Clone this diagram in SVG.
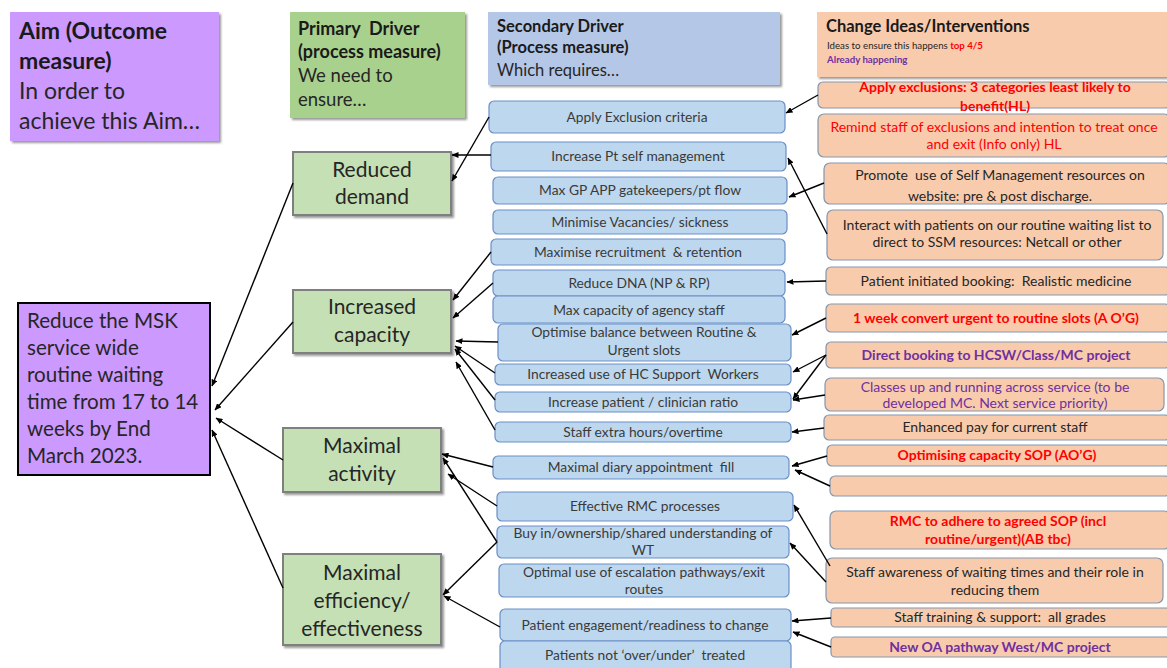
<svg xmlns="http://www.w3.org/2000/svg" width="1167" height="668" viewBox="0 0 1167 668">
<defs>
<filter id="sh" x="-5%" y="-5%" width="115%" height="120%"><feDropShadow dx="2" dy="2" stdDeviation="1.2" flood-color="#7f7f7f" flood-opacity="0.8"/></filter>
<marker id="ah" markerUnits="userSpaceOnUse" markerWidth="7" markerHeight="6" refX="6.5" refY="3" orient="auto"><path d="M0,0 L7,3 L0,6 z" fill="#000"/></marker>
<style>
text{font-family:Lato,"Open Sans","Liberation Sans",sans-serif;}
.hp{fill:#CC99FF;}
.hg{fill:#A9D18E;}
.hb{fill:#B4C7E7;}
.ho{fill:#F8CBAD;}
.pd{fill:#C5E0B4;stroke:#7F7F7F;stroke-width:2;}
.sd{fill:#BDD7EE;stroke:#6A8FC8;stroke-width:1.2;}
.ci{fill:#F8CBAD;stroke:#8497B0;stroke-width:1.2;}
.st{font-size:13.8px;fill:#3A3A3A;text-anchor:middle;}
.ct{font-size:14px;fill:#262626;text-anchor:middle;}
.red{fill:#FF0000;}
.pur{fill:#7030A0;}
.b{font-weight:bold;}
.pt{font-size:21px;fill:#262626;text-anchor:middle;}
.at{font-size:20.6px;fill:#262626;}
.cn line{stroke:#000;stroke-width:1.4;marker-end:url(#ah);}
</style>
</defs>

<g id="hdr-aim">
<rect class="hp" x="10" y="12" width="209" height="129" filter="url(#sh)"/>
<text x="19" y="39" style="font-size:23px;font-weight:bold;fill:#1a1a1a">Aim (Outcome</text>
<text x="19" y="69" style="font-size:23px;font-weight:bold;fill:#1a1a1a">measure)</text>
<text x="19" y="99" style="font-size:23px;fill:#262626">In order to</text>
<text x="19" y="129" style="font-size:23px;fill:#262626">achieve this Aim…</text>
</g>

<g id="hdr-primary">
<rect class="hg" x="290" y="12" width="175" height="106" filter="url(#sh)"/>
<text x="298" y="35" xml:space="preserve" style="font-size:18px;font-weight:bold;fill:#1a1a1a">Primary  Driver</text>
<text x="298" y="58" style="font-size:18px;font-weight:bold;fill:#1a1a1a">(process measure)</text>
<text x="298" y="82" style="font-size:18.5px;fill:#262626">We need to</text>
<text x="298" y="106" style="font-size:18.5px;fill:#262626">ensure…</text>
</g>

<g id="hdr-secondary">
<rect class="hb" x="488" y="12" width="292" height="73" filter="url(#sh)"/>
<text x="497" y="32" style="font-size:16.5px;font-weight:bold;fill:#1a1a1a">Secondary Driver</text>
<text x="497" y="53" style="font-size:16.5px;font-weight:bold;fill:#1a1a1a">(Process measure)</text>
<text x="497" y="76" style="font-size:16.5px;fill:#262626">Which requires…</text>
</g>

<g id="hdr-change">
<rect class="ho" x="817" y="12" width="352" height="65" filter="url(#sh)"/>
<text x="826" y="32" style="font-size:16.5px;font-weight:bold;fill:#1a1a1a">Change Ideas/Interventions</text>
<text x="827" y="49" style="font-size:9.7px;fill:#262626">Ideas to ensure this happens <tspan style="fill:#FF0000;font-weight:bold">top 4/5</tspan></text>
<text x="827" y="63" style="font-size:9.7px;fill:#7030A0;font-weight:bold">Already happening</text>
</g>

<g id="aim">
<rect x="18" y="303" width="192" height="172" fill="#CC99FF" stroke="#000" stroke-width="2"/>
<text class="at" x="27" y="328">Reduce the MSK</text>
<text class="at" x="27" y="355">service wide</text>
<text class="at" x="27" y="382">routine waiting</text>
<text class="at" x="27" y="409">time from 17 to 14</text>
<text class="at" x="27" y="436">weeks by End</text>
<text class="at" x="27" y="463">March 2023.</text>
</g>

<g id="p-reduced-demand">
<rect class="pd" x="293" y="152" width="158" height="63" filter="url(#sh)"/>
<text class="pt" x="372" y="177">Reduced</text>
<text class="pt" x="372" y="204">demand</text>
</g>
<g id="p-increased-capacity">
<rect class="pd" x="293" y="290" width="158" height="63" filter="url(#sh)"/>
<text class="pt" x="372" y="314">Increased</text>
<text class="pt" x="372" y="342">capacity</text>
</g>
<g id="p-maximal-activity">
<rect class="pd" x="283" y="428" width="158" height="64" filter="url(#sh)"/>
<text class="pt" x="362" y="453">Maximal</text>
<text class="pt" x="362" y="481">activity</text>
</g>
<g id="p-maximal-efficiency">
<rect class="pd" x="283" y="554" width="158" height="91" filter="url(#sh)"/>
<text class="pt" x="362" y="580">Maximal</text>
<text class="pt" x="362" y="608">efficiency/</text>
<text class="pt" x="362" y="636">effectiveness</text>
</g>

<g id="s1"><rect class="sd" x="489" y="101" width="296" height="32" rx="5"/><text class="st" x="637" y="122">Apply Exclusion criteria</text></g>
<g id="s2"><rect class="sd" x="491" y="142" width="295" height="29" rx="5"/><text class="st" x="638" y="161">Increase Pt self management</text></g>
<g id="s3"><rect class="sd" x="493" y="177" width="294" height="27" rx="5"/><text class="st" x="640" y="195">Max GP APP gatekeepers/pt flow</text></g>
<g id="s4"><rect class="sd" x="493" y="210" width="294" height="24" rx="5"/><text class="st" x="640" y="227">Minimise Vacancies/ sickness</text></g>
<g id="s5"><rect class="sd" x="491" y="239" width="294" height="26" rx="5"/><text class="st" x="638" y="257" xml:space="preserve">Maximise recruitment  &amp; retention</text></g>
<g id="s6"><rect class="sd" x="493" y="270" width="292" height="26" rx="5"/><text class="st" x="639" y="288">Reduce DNA (NP &amp; RP)</text></g>
<g id="s7"><rect class="sd" x="493" y="296" width="292" height="27" rx="5"/><text class="st" x="639" y="315">Max capacity of agency staff</text></g>
<g id="s8"><rect class="sd" x="498" y="324" width="293" height="37" rx="5"/><text class="st" x="644" y="337">Optimise balance between Routine &amp;</text><text class="st" x="644" y="355">Urgent slots</text></g>
<g id="s9"><rect class="sd" x="495" y="364" width="296" height="21" rx="5"/><text class="st" x="643" y="379" xml:space="preserve">Increased use of HC Support  Workers</text></g>
<g id="s10"><rect class="sd" x="495" y="392" width="296" height="20" rx="5"/><text class="st" x="643" y="407">Increase patient / clinician ratio</text></g>
<g id="s11"><rect class="sd" x="495" y="422" width="296" height="20" rx="5"/><text class="st" x="643" y="437">Staff extra hours/overtime</text></g>
<g id="s12"><rect class="sd" x="493" y="456" width="296" height="23" rx="5"/><text class="st" x="641" y="472" xml:space="preserve">Maximal diary appointment  fill</text></g>
<g id="s13"><rect class="sd" x="497" y="492" width="296" height="29" rx="5"/><text class="st" x="645" y="511">Effective RMC processes</text></g>
<g id="s14"><rect class="sd" x="497" y="526" width="292" height="32" rx="5"/><text class="st" x="643" y="538">Buy in/ownership/shared understanding of</text><text class="st" x="643" y="555">WT</text></g>
<g id="s15"><rect class="sd" x="499" y="564" width="290" height="33" rx="5"/><text class="st" x="644" y="577">Optimal use of escalation pathways/exit</text><text class="st" x="644" y="594">routes</text></g>
<g id="s16"><rect class="sd" x="500" y="609" width="291" height="32" rx="5"/><text class="st" x="645" y="630">Patient engagement/readiness to change</text></g>
<g id="s17"><rect class="sd" x="500" y="641" width="291" height="34" rx="5"/><text class="st" x="645" y="660" xml:space="preserve">Patients not ‘over/under’  treated</text></g>

<g id="c1"><rect class="ci" x="818" y="82" width="352" height="26" rx="5"/><text class="ct b red" x="995" y="92">Apply exclusions: 3 categories least likely to</text><text class="ct b red" x="995" y="111">benefit(HL)</text></g>
<g id="c2"><rect class="ci" x="818" y="114" width="352" height="43" rx="6"/><text class="ct red" x="994" y="132">Remind staff of exclusions and intention to treat once</text><text class="ct red" x="994" y="149">and exit (Info only) HL</text></g>
<g id="c3"><rect class="ci" x="824" y="163" width="346" height="41" rx="6"/><text class="ct" x="1000" y="180" xml:space="preserve">Promote  use of Self Management resources on</text><text class="ct" x="1000" y="201">website: pre &amp; post discharge.</text></g>
<g id="c4"><rect class="ci" x="827" y="210" width="336" height="50" rx="6"/><text class="ct" x="997" y="230">Interact with patients on our routine waiting list to</text><text class="ct" x="997" y="247">direct to SSM resources: Netcall or other</text></g>
<g id="c5"><rect class="ci" x="826" y="267" width="344" height="28" rx="5"/><text class="ct" x="996" y="286" xml:space="preserve">Patient initiated booking:  Realistic medicine</text></g>
<g id="c6"><rect class="ci" x="826" y="304" width="344" height="28" rx="5"/><text class="ct b red" x="996" y="323">1 week convert urgent to routine slots (A O’G)</text></g>
<g id="c7"><rect class="ci" x="826" y="342" width="344" height="26" rx="5"/><text class="ct b pur" x="996" y="360">Direct booking to HCSW/Class/MC project</text></g>
<g id="c8"><rect class="ci" x="825" y="378" width="339" height="33" rx="6"/><text class="ct pur" x="995" y="392">Classes up and running across service (to be</text><text class="ct pur" x="995" y="408">developed MC. Next service priority)</text></g>
<g id="c9"><rect class="ci" x="824" y="415" width="346" height="25" rx="5"/><text class="ct" x="995" y="432">Enhanced pay for current staff</text></g>
<g id="c10"><rect class="ci" x="827" y="445" width="343" height="21" rx="5"/><text class="ct b red" x="997" y="460">Optimising capacity SOP (AO’G)</text></g>
<g id="c11"><rect class="ci" x="830" y="476" width="340" height="20" rx="5"/></g>
<g id="c12"><rect class="ci" x="830" y="511" width="340" height="38" rx="6"/><text class="ct b red" x="998" y="526">RMC to adhere to agreed SOP (incl</text><text class="ct b red" x="998" y="544">routine/urgent)(AB tbc)</text></g>
<g id="c13"><rect class="ci" x="826" y="558" width="337" height="45" rx="6"/><text class="ct" x="995" y="577">Staff awareness of waiting times and their role in</text><text class="ct" x="995" y="595">reducing them</text></g>
<g id="c14"><rect class="ci" x="831" y="608" width="339" height="19" rx="4"/><text class="ct" x="1000" y="622" xml:space="preserve">Staff training &amp; support:  all grades</text></g>
<g id="c15"><rect class="ci" x="831" y="637" width="339" height="20" rx="4"/><text class="ct b pur" x="1000" y="652">New OA pathway West/MC project</text></g>

<g id="connectors" class="cn">
<line x1="293" y1="183" x2="212" y2="386"/>
<line x1="293" y1="322" x2="215" y2="410"/>
<line x1="283" y1="460" x2="216" y2="418"/>
<line x1="283" y1="588" x2="212" y2="430"/>
<line x1="491" y1="155" x2="452" y2="155"/>
<line x1="489" y1="117" x2="452" y2="181"/>
<line x1="491" y1="252" x2="453" y2="300"/>
<line x1="493" y1="283" x2="453" y2="318"/>
<line x1="498" y1="342" x2="456" y2="341"/>
<line x1="495" y1="373" x2="455" y2="346"/>
<line x1="495" y1="400" x2="455" y2="349"/>
<line x1="495" y1="430" x2="456" y2="362"/>
<line x1="493" y1="467" x2="442" y2="454"/>
<line x1="497" y1="506" x2="448" y2="474"/>
<line x1="497" y1="542" x2="443" y2="458"/>
<line x1="497" y1="542" x2="443" y2="595"/>
<line x1="500" y1="627" x2="444" y2="596"/>
<line x1="818" y1="95" x2="786" y2="113"/>
<line x1="824" y1="183" x2="789" y2="197"/>
<line x1="827" y1="234" x2="788" y2="158"/>
<line x1="826" y1="281" x2="787" y2="282"/>
<line x1="826" y1="318" x2="792" y2="335"/>
<line x1="826" y1="355" x2="793" y2="372"/>
<line x1="826" y1="355" x2="793" y2="399"/>
<line x1="825" y1="395" x2="793" y2="400"/>
<line x1="824" y1="428" x2="792" y2="432"/>
<line x1="827" y1="456" x2="792" y2="466"/>
<line x1="830" y1="486" x2="795" y2="470"/>
<line x1="830" y1="566" x2="794" y2="505"/>
<line x1="826" y1="582" x2="790" y2="543"/>
<line x1="831" y1="618" x2="792" y2="621"/>
<line x1="831" y1="647" x2="793" y2="632"/>
</g>
</svg>
